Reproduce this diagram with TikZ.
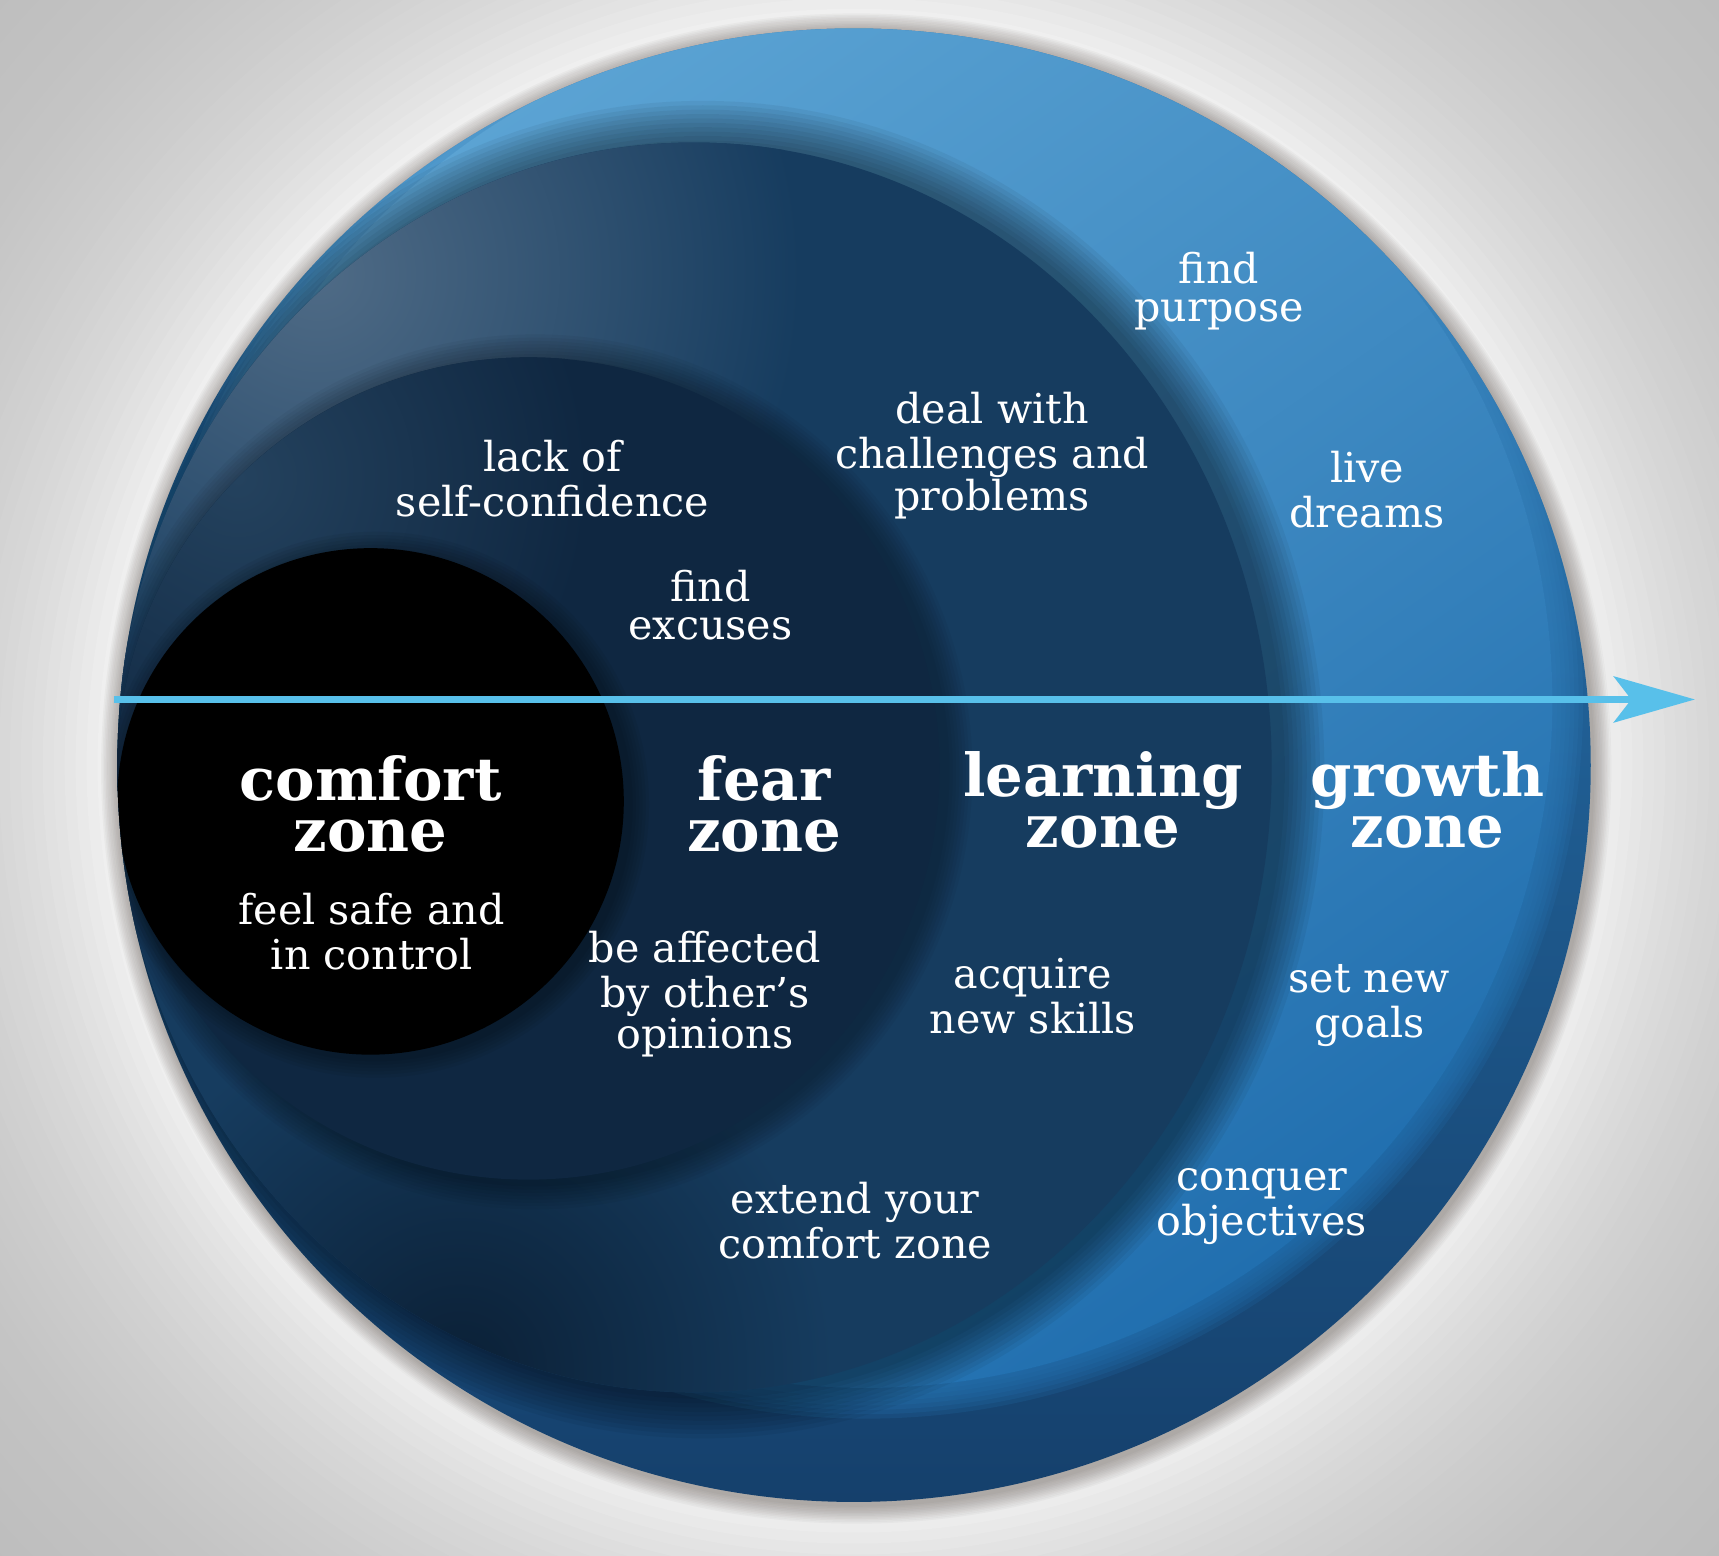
\documentclass[tikz,border=0pt]{standalone}
\usepackage{fontspec}
\newfontfamily\zfont{DejaVu Serif}
\usetikzlibrary{arrows.meta}
\definecolor{shadowc}{HTML}{3A2E28}
\definecolor{rimTop}{HTML}{2A7AB8}
\definecolor{rimBot}{HTML}{15406C}
\definecolor{growTop}{HTML}{5CA4D4}
\definecolor{growBot}{HTML}{216FAF}
\definecolor{learnBase}{HTML}{163C5F}
\definecolor{learnHi}{HTML}{4F6B86}
\definecolor{learnLo}{HTML}{0B2036}
\definecolor{fearBase}{HTML}{0F2741}
\definecolor{fearHi}{HTML}{24425E}
\definecolor{arrowc}{HTML}{58C0EA}
\tikzset{
  bodytext/.style={text=white, align=center, inner sep=0pt,
    font=\zfont\fontsize{18.8}{17.5}\selectfont},
  titletext/.style={text=white, align=center, inner sep=0pt,
    font=\zfont\bfseries\fontsize{27}{23}\selectfont},
  arrowline/.style={arrowc, line width=3pt,
    -{Stealth[length=37pt, width=21pt, inset=8pt]}}
}
\begin{document}
\begin{tikzpicture}[x=0.5pt,y=0.5pt]
\useasboundingbox (0,0) rectangle (1568,-1419);
% background: light centre, grey corners
\begin{scope}
  \clip (0,0) rectangle (1568,-1419);
  \foreach \r in {1090,1080,...,680}{
    \pgfmathsetmacro\g{0.95-0.23*(1-exp(-(\r-680)/170))}
    \definecolor{bgtmp}{gray}{\g}
    \fill[bgtmp] (779,-698) circle (\r);
  }
\end{scope}
% soft shadow of the disc
\foreach \k in {1,...,12}{\fill[shadowc,opacity=0.035] (781,-701) circle ({672+1.4*\k});}
% outer disc
\shade[top color=rimTop, bottom color=rimBot] (779,-698) circle (672);
\begin{scope}
  \clip (779,-698) circle (672);
  % growth band
  \shade[top color=growTop, bottom color=growBot, shading angle=35] (790,-640) circle (626);
  \foreach \r in {630,634,...,656}{\shade[top color=growTop, bottom color=growBot, shading angle=35, opacity=0.2] (790,-640) circle (\r);}
  % learning zone
  \foreach \k in {1,...,10}{\fill[black,opacity=0.05] (641,-702) ellipse ({527+4*\k} and {570+4*\k});}
  \fill[learnBase] (633,-700) ellipse (527 and 570);
  \begin{scope}
    \clip (633,-700) ellipse (527 and 570);
    \shade[inner color=learnHi, outer color=learnBase] (290,-250) circle (440);
    \shade[inner color=learnLo, outer color=learnBase] (420,-1250) circle (340);
  \end{scope}
  % fear zone
  \foreach \k in {1,...,8}{\fill[black,opacity=0.04] (488,-704) circle ({375+3*\k});}
  \fill[fearBase] (482,-701) circle (375);
  \begin{scope}
    \clip (482,-701) circle (375);
    \shade[inner color=fearHi, outer color=fearBase] (217,-436) circle (320);
  \end{scope}
  % comfort zone
  \foreach \k in {1,...,6}{\fill[black,opacity=0.05] (343,-734) circle ({231+3*\k});}
  \fill[black] (338,-731) circle (231);
\end{scope}
% axis arrow
\coordinate (arrowstart) at (104,-638);
\coordinate (arrowtip) at (1546,-638);
\draw[arrowline] (arrowstart) -- (arrowtip);
% zone titles
\node[titletext] (comfort) at (338,-740) {comfort\strut\\zone\strut};
\node[titletext] (fear) at (697,-740) {fear\strut\\zone\strut};
\node[titletext] (learning) at (1006,-736) {learning\strut\\zone\strut};
\node[titletext] (growth) at (1302,-736) {growth\strut\\zone\strut};
% descriptions
\node[bodytext] (lackconf) at (504,-442) {lack of\strut\\self-confidence\strut};
\node[bodytext] (excuses) at (648,-557) {find\strut\\excuses\strut};
\node[bodytext] (deal) at (905,-417) {deal with\strut\\challenges and\\problems\strut};
\node[bodytext] (purpose) at (1112,-267) {find\strut\\purpose\strut};
\node[bodytext] (dreams) at (1247,-452) {live\strut\\dreams\strut};
\node[bodytext] (safe) at (339,-855) {feel safe and\strut\\in control\strut};
\node[bodytext] (affected) at (643,-908) {be affected\strut\\by other’s\\opinions\strut};
\node[bodytext] (skills) at (942,-914) {acquire\strut\\new skills\strut};
\node[bodytext] (goals) at (1249,-918) {set new\strut\\goals\strut};
\node[bodytext] (objectives) at (1151,-1099) {conquer\strut\\objectives\strut};
\node[bodytext] (extend) at (780,-1118) {extend your\strut\\comfort zone\strut};
\end{tikzpicture}
\end{document}
